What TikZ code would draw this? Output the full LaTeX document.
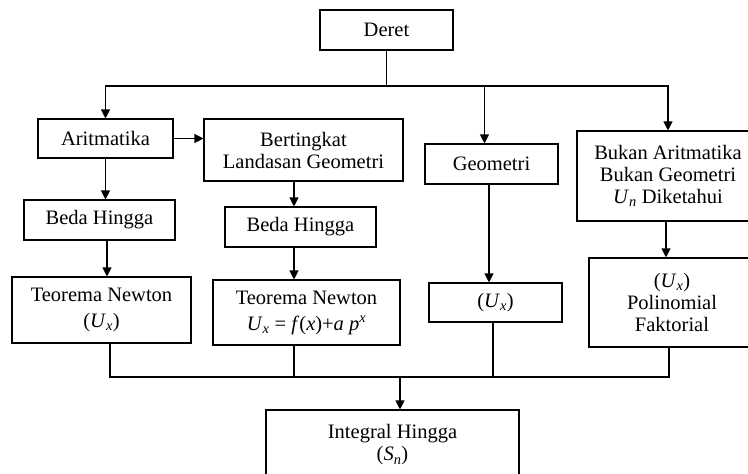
\documentclass[tikz,border=0pt]{standalone}
\usepackage{fontspec}
\setmainfont{Liberation Serif}
\usepackage{xcolor}
\usepackage{tikz}
\usetikzlibrary{calc}
\usetikzlibrary{arrows.meta}

\newcommand{\idx}[2]{\textit{#1}\textsubscript{\textit{#2}}}

\begin{document}
\begin{tikzpicture}[x=1pt,y=-1pt,line width=1.1pt,>={Triangle[length=9pt,width=9pt]}]
  \tikzset{every node/.style={shape=rectangle,draw,align=center,font=\fontsize{20.5}{22}\selectfont,inner sep=0pt}};
  \useasboundingbox (0,0) rectangle (748,474);
  \clip (0,0) rectangle (748,474);
  \node [minimum width=133pt, minimum height=40pt] (deret) at (386.5,30) {Deret};
  \node [minimum width=135pt, minimum height=39pt] (arit) at (105.5,138.5) {Aritmatika};
  \node [minimum width=199pt, minimum height=62pt] (bert) at (303.5,150) {Bertingkat\\Landasan Geometri};
  \node [minimum width=133pt, minimum height=40pt] (geo) at (491.5,164) {Geometri};
  \node [minimum width=182pt, minimum height=90pt] (bukan) at (668,176) {Bukan Aritmatika\\Bukan Geometri\\\idx{U}{n} Diketahui};
  \node [minimum width=151pt, minimum height=40pt] (beda1) at (99.5,220) {Beda Hingga};
  \node [minimum width=151pt, minimum height=40pt] (beda2) at (300.5,227) {Beda Hingga};
  \node [minimum width=179pt, minimum height=66pt] (teo1) at (101.5,310) {Teorema Newton\\[4pt](\idx{U}{x})};
  \node [minimum width=187pt, minimum height=65pt] (teo2) at (306.5,312.5) {Teorema Newton\\[4pt]\idx{U}{x} = \textit{f}(\textit{x})+\textit{a p}\textsuperscript{\textit{x}}};
  \node [minimum width=133pt, minimum height=39pt] (ux) at (495.5,302.5) {(\idx{U}{x})};
  \node [minimum width=166pt, minimum height=89pt] (polinom) at (672,302.5) {(\idx{U}{x})\\Polinomial\\Faktorial};
  \node [minimum width=253pt, minimum height=70pt] (integral) at (392.5,445) {Integral Hingga\\(\idx{S}{n})};
  \coordinate (top) at (386.5,86);
  \coordinate (bot) at (400,377);
  \path[draw] (deret.south) -- (top);
  \path[draw,->] (top) -| (arit.north);
  \path[draw,->] (top) -| ([xshift=-7pt]geo.north);
  \path[draw,->] (top) -| (bukan.north);
  \path[draw,->] (arit.east) -- (arit.east -| bert.west);
  \path[draw,->] (arit.south) -- (arit.south |- beda1.north);
  \path[draw,->] ([xshift=-9.5pt]bert.south) -- ([xshift=-9.5pt]bert.south |- beda2.north);
  \path[draw,->] ([xshift=7.5pt]beda1.south) -- ([xshift=7.5pt]beda1.south |- teo1.north);
  \path[draw,->] ([xshift=-6.5pt]beda2.south) -- ([xshift=-6.5pt]beda2.south |- teo2.north);
  \path[draw,->] ([xshift=-2.5pt]geo.south) -- ([xshift=-2.5pt]geo.south |- ux.north);
  \path[draw,->] ([xshift=-2pt]bukan.south) -- ([xshift=-2pt]bukan.south |- polinom.north);
  \path[draw] ([xshift=8.5pt]teo1.south) |- (bot);
  \path[draw] ([xshift=-12.5pt]teo2.south) |- (bot);
  \path[draw] ([xshift=-2.5pt]ux.south) |- (bot);
  \path[draw] ([xshift=-3pt]polinom.south) |- (bot);
  \path[draw,->] (bot) -- (bot |- integral.north);
\end{tikzpicture}
\end{document}
